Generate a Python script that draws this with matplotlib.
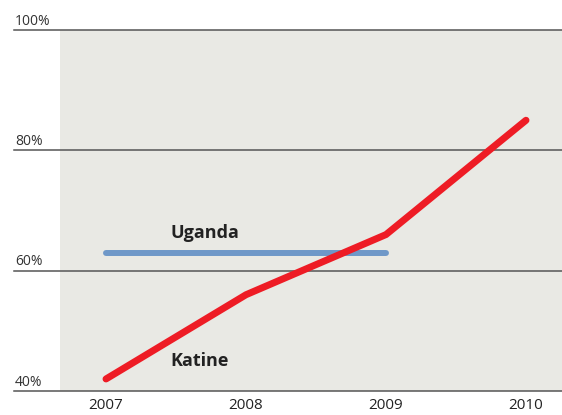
import matplotlib.pyplot as plt

years = [2007, 2008, 2009, 2010]
katine = [42, 56, 66, 85]
uganda_years = [2007, 2008, 2009]
uganda = [63, 63, 63]
y_ticks = [40, 60, 80, 100]
y_labels = ['40%', '60%', '80%', '100%']

plt.rcParams['font.family'] = ['Open Sans', 'DejaVu Sans']

fig = plt.figure(figsize=(5.62, 4.15), dpi=100)
ax = fig.add_axes([60 / 562, 24 / 415, 502 / 562, 361 / 415])
ax.set_facecolor('#e9e9e4')

ax.plot(uganda_years, uganda, color='#6f98c8', linewidth=4.3,
        solid_capstyle='round', zorder=3)
ax.plot(years, katine, color='#ee1c25', linewidth=5,
        solid_capstyle='round', solid_joinstyle='miter', zorder=4)

ax.set_xlim(2007 - 46 / 140, 2010 + 36 / 140)
ax.set_ylim(40, 100)

# gridlines reaching out past the shaded area, labels sitting above them
for v, lab in zip(y_ticks, y_labels):
    ax.axhline(v, xmin=-46 / 502, xmax=1, color='#555555', linewidth=1.1,
               clip_on=False, zorder=2)
    ax.annotate(lab, xy=(-45 / 502, v), xycoords=('axes fraction', 'data'),
                xytext=(0, 1), textcoords='offset points',
                ha='left', va='bottom', fontsize=10, color='#333333')

ax.text(2007.46, 66.2, 'Uganda', fontsize=13, fontweight='bold',
        color='#222222', ha='left', va='center')
ax.text(2007.46, 45.0, 'Katine', fontsize=13, fontweight='bold',
        color='#222222', ha='left', va='center')

ax.set_xticks(years)
ax.set_xticklabels([str(y) for y in years], fontsize=11, color='#222222')
ax.tick_params(axis='x', length=0, pad=5)
ax.set_yticks([])
for s in ax.spines.values():
    s.set_visible(False)

fig.savefig('out.png', dpi=100)
